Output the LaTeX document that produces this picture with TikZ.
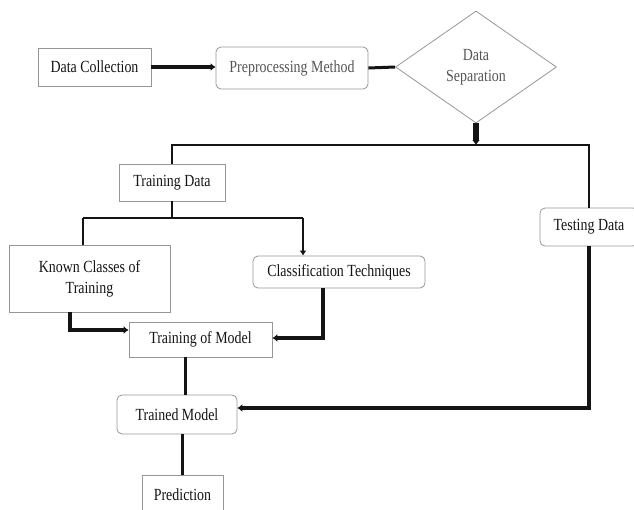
\documentclass[tikz,border=0pt]{standalone}
\usepackage{fontspec}
\setmainfont{Liberation Serif}[FakeStretch=0.82]
\usetikzlibrary{shapes.geometric,arrows.meta}

\begin{document}
\begin{tikzpicture}[x=1pt,y=-1pt,
    box/.style={draw=gray1,line width=0.8pt,inner sep=0pt,text=black1,font=\fontsize{17}{21}\selectfont,align=center},
    rbox/.style={box,rounded corners=5pt},
    wire/.style={black1,line width=2.5pt},
    fat/.style={black1,line width=4.5pt,-{Latex[length=5pt,width=8pt]}}]
\definecolor{gray1}{RGB}{150,150,150}
\definecolor{gray2}{RGB}{85,85,85}
\definecolor{black1}{RGB}{20,20,20}
\useasboundingbox (0,0) rectangle (634,509);
\node[box,minimum width=113pt,minimum height=38pt] (dcol) at (94.5,67) {Data Collection};
\node[rbox,text=gray2,minimum width=152pt,minimum height=42pt] (prep) at (292,68) {Preprocessing Method};
\node[box,diamond,text=gray2,minimum width=161pt,minimum height=112pt] (sep) at (476,67) {Data\\Separation};
\coordinate (mid) at (476,145);
\coordinate (lt) at (172,145);
\coordinate (rt) at (589,145);
\node[box,minimum width=106pt,minimum height=37pt] (train) at (172,182.5) {Training Data};
\node[rbox,minimum width=98pt,minimum height=38pt] (test) at (589,227) {Testing Data};
\coordinate (bl) at (83,218);
\coordinate (bm) at (172,218);
\coordinate (br) at (303,218);
\node[box,minimum width=161pt,minimum height=67pt] (known) at (89.5,278.5) {Known Classes of\\Training};
\node[rbox,minimum width=172pt,minimum height=32pt] (cls) at (339,272) {Classification Techniques};
\node[box,minimum width=143pt,minimum height=35pt] (tom) at (200.5,339.5) {Training of Model};
\node[rbox,minimum width=120pt,minimum height=39pt] (trained) at (177,414.5) {Trained Model};
\node[box,minimum width=81pt,minimum height=40pt] (pred) at (182.5,495) {Prediction};
\coordinate (kd) at (70,330);
\coordinate (cd) at (323,338);
\coordinate (td) at (589,408);
\draw[fat] (dcol.east) -- (dcol.east -| prep.west);
\draw[wire,line width=3pt] (prep.east) -- (sep.west);
\draw[fat,line width=5.5pt] (sep.south) -- (mid);
\draw[wire] (train.north) -- (lt) -- (rt) -- (test.north);
\draw[wire] (train.south) -- (bm);
\draw[wire] (bl) -- (br);
\draw[wire] (bl) -- (bl |- known.north);
\draw[wire,-{Latex[length=5pt,width=7pt]}] (br) -- (br |- cls.north);
\draw[fat] (known.south -| kd) -- (kd) -- (kd -| tom.west);
\draw[fat,line width=4pt] (cls.south -| cd) -- (cd) -- (cd -| tom.east);
\draw[wire] ([xshift=-15pt]tom.south) -- ([xshift=-15pt]tom.south |- trained.north);
\draw[wire] (pred.north |- trained.south) -- (pred.north);
\draw[fat] (test.south) -- (td) -- (td -| trained.east);
\end{tikzpicture}
\end{document}
